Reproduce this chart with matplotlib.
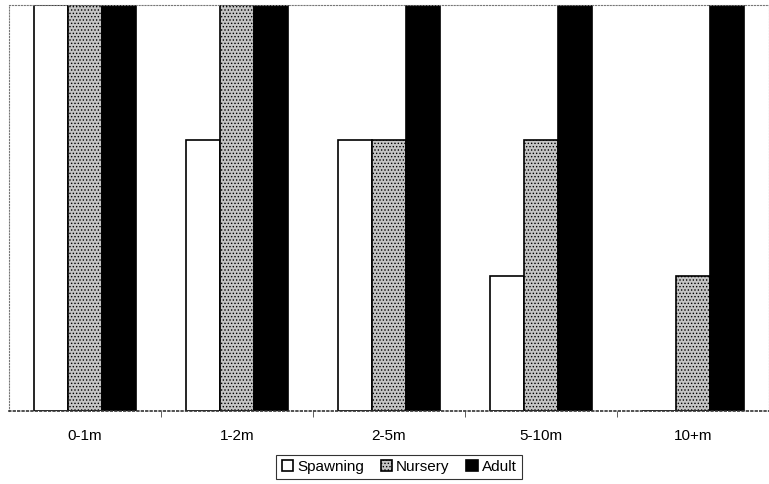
import numpy as np
import matplotlib.pyplot as plt

plt.rcParams['font.family'] = ['Liberation Sans', 'DejaVu Sans']
plt.rcParams['hatch.color'] = '#808080'
plt.rcParams['hatch.linewidth'] = 0.6

# depth classes and habitat use (0-3 scale)
depths = ['0-1m', '1-2m', '2-5m', '5-10m', '10+m']
spawning = [3, 2, 2, 1, 0]
nursery = [3, 3, 2, 2, 1]
adult = [3, 3, 3, 3, 3]

fig = plt.figure(figsize=(7.69, 4.84), dpi=100)
ax = fig.add_axes([9 / 769, 73 / 484, 760 / 769, 406 / 484])

x = np.arange(len(depths))
w = 0.222
ax.bar(x - w, spawning, w, color='white', edgecolor='black', linewidth=1.2, label='Spawning')
ax.bar(x, nursery, w, color='#c4c4c4', edgecolor='black', linewidth=1.2,
       hatch='.....', label='Nursery')
ax.bar(x + w, adult, w, color='black', edgecolor='black', linewidth=1.2, label='Adult')

ax.set_xlim(-0.5, len(depths) - 0.5)
ax.set_ylim(0, 3)

# category labels at centres, ticks at boundaries
ax.set_xticks(x)
ax.set_xticklabels(depths, fontsize=11)
ax.tick_params(axis='x', which='major', length=0, pad=13)
ax.set_xticks(np.arange(0.5, len(depths) - 0.5, 1), minor=True)
ax.tick_params(axis='x', which='minor', length=4, direction='out', color='#444444')
ax.set_yticks([])

for side in ['left', 'top', 'right']:
    ax.spines[side].set_linestyle(':')
    ax.spines[side].set_color('#777777')
ax.spines['bottom'].set_linestyle(':')
ax.spines['bottom'].set_color('#333333')
ax.spines['bottom'].set_linewidth(1.2)

leg = fig.legend(loc='center', bbox_to_anchor=(399 / 769, 1 - 467 / 484), ncol=3,
                 fontsize=11, frameon=True, fancybox=False, edgecolor='black',
                 handlelength=0.75, handleheight=0.75, handletextpad=0.25,
                 columnspacing=1.1, borderpad=0.35, borderaxespad=0)
leg.get_frame().set_linewidth(0.8)

fig.savefig('out.png', dpi=100)
